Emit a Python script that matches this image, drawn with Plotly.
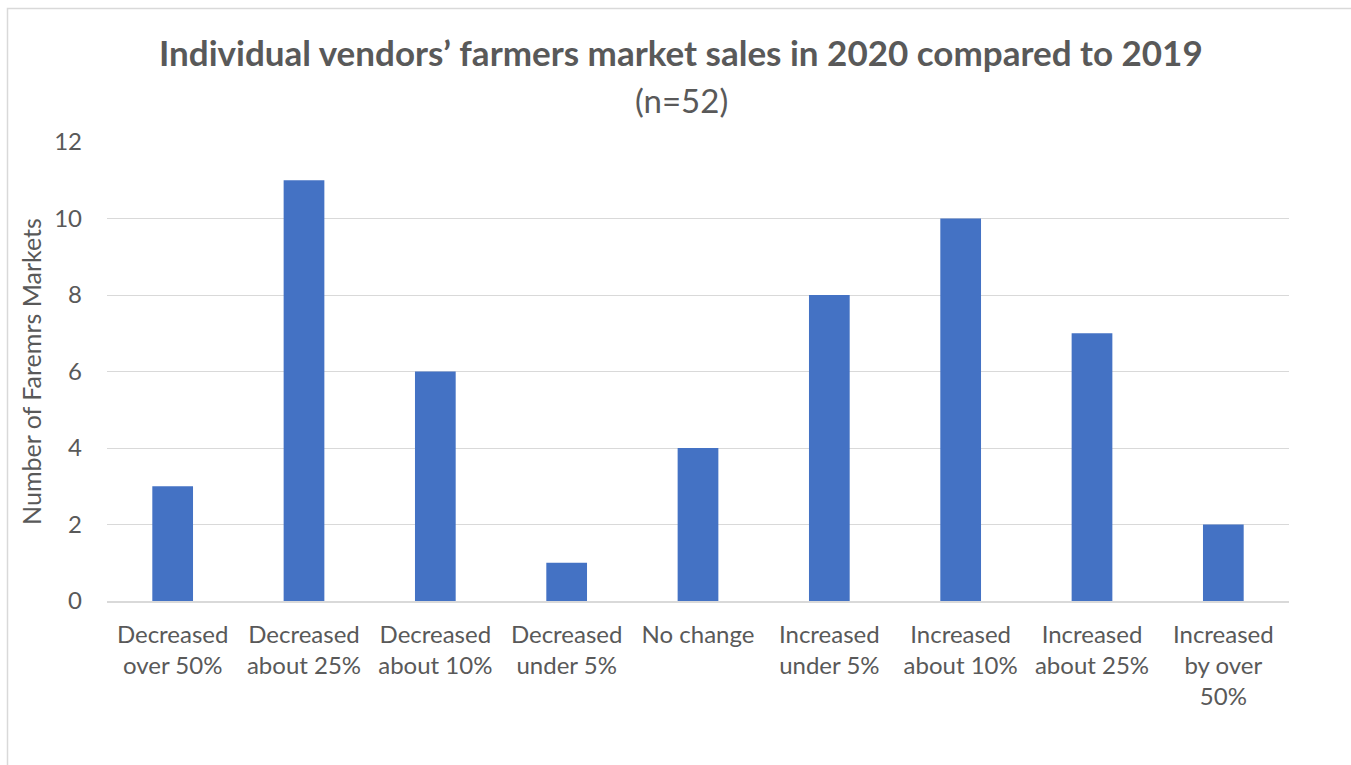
import plotly.graph_objects as go

categories = ["Decreased<br>over 50%", "Decreased<br>about 25%", "Decreased<br>about 10%",
              "Decreased<br>under 5%", "No change", "Increased<br>under 5%",
              "Increased<br>about 10%", "Increased<br>about 25%", "Increased<br>by over<br>50%"]
values = [3, 11, 6, 1, 4, 8, 10, 7, 2]
y_ticks = [0, 2, 4, 6, 8, 10, 12]

FONT = "Lato"
TXT = "#595959"

fig = go.Figure(go.Bar(x=categories, y=values, marker_color="#4472C4",
                       marker_line_width=0))

L, R, T, B = 107, 62, 142, 164
W, H = 1351, 765
pw, ph = W - L - R, H - T - B

def px(x):
    return (x - L) / pw

def py(y):
    return (H - B - y) / ph

fig.update_layout(
    width=W, height=H,
    margin=dict(l=L, r=R, t=T, b=B, autoexpand=False),
    paper_bgcolor="white", plot_bgcolor="white",
    bargap=0.69,
    showlegend=False,
    font=dict(family=FONT, color=TXT),
    xaxis=dict(showgrid=False, showline=True, linecolor="#D9D9D9", linewidth=1.5,
               tickfont=dict(size=24, color=TXT), ticks="", ticklabelstandoff=11),
    yaxis=dict(range=[0, 12], tickvals=y_ticks, showgrid=True, gridcolor="#D9D9D9",
               gridwidth=1.2, zeroline=False, tickfont=dict(size=24, color=TXT),
               ticks="", ticklabelstandoff=24,
               title=dict(text="Number of Faremrs Markets", font=dict(size=25, color=TXT),
                          standoff=5)),
    annotations=[
        dict(text="<b>Individual vendors’ farmers market sales in 2020 compared to 2019</b>",
             xref="paper", yref="paper", x=px(681), y=py(52), showarrow=False,
             font=dict(size=35, color=TXT), xanchor="center", yanchor="middle"),
        dict(text="(n=52)", xref="paper", yref="paper", x=px(681), y=py(100), showarrow=False,
             font=dict(size=33, color=TXT), xanchor="center", yanchor="middle"),
    ],
    shapes=[
        dict(type="rect", xref="paper", yref="paper", x0=px(7.5), x1=px(1400),
             y0=py(800), y1=py(8.5), line=dict(color="#D9D9D9", width=1.5),
             fillcolor="rgba(0,0,0,0)", layer="below"),
    ],
)

fig.write_html("out.html")
